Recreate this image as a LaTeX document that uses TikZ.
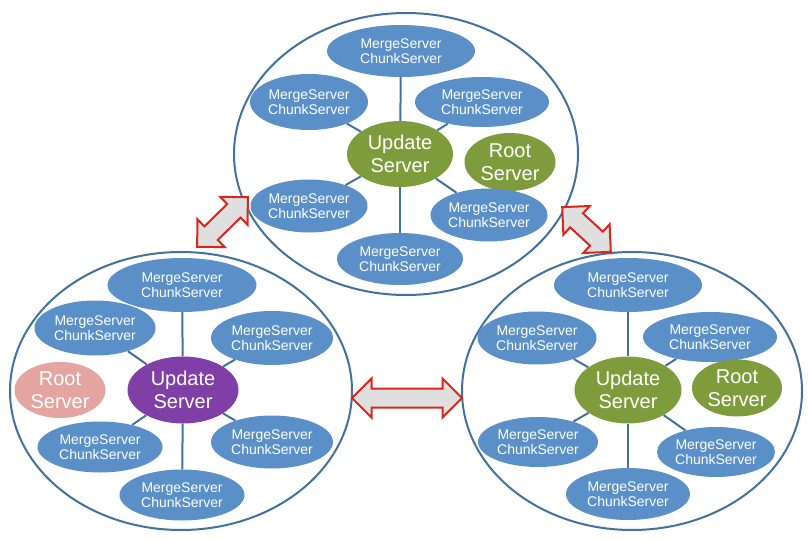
\documentclass[tikz,border=0pt]{standalone}
\usepackage{fontspec}
\setmainfont{Liberation Sans}
\usepackage{xcolor}
\usepackage{tikz}
\usetikzlibrary{shapes.geometric, shapes.arrows}
\definecolor{msblue}{HTML}{5B8FC7}
\definecolor{ringblue}{HTML}{41719C}
\definecolor{updgreen}{HTML}{7E9C3C}
\definecolor{updpurple}{HTML}{7F3FA6}
\definecolor{rootpink}{HTML}{E4A5A2}
\definecolor{arrowred}{HTML}{D9261C}

\begin{document}
\begin{tikzpicture}[x=1pt, y=-1pt,
  cluster/.style={ellipse, draw=ringblue, line width=2pt, inner sep=0pt},
  ms/.style n args={2}{ellipse, fill=msblue, text=white, inner sep=0pt, align=center, minimum width=#1pt, minimum height=#2pt, font=\fontsize{14}{15}\selectfont},
  srv/.style={ellipse, text=white, inner sep=0pt, align=center, font=\fontsize{20}{23}\selectfont},
  spoke/.style={draw=ringblue, line width=2pt},
  link/.style={double arrow, draw=arrowred, fill=gray!25, line width=2pt, inner sep=8.5pt, double arrow head extend=10pt, minimum width=36pt}]
\useasboundingbox (0,0) rectangle (808,540);

% Rings
\node[cluster, minimum width=344pt, minimum height=282pt] (ringT) at (406,154) {};
\node[cluster, minimum width=342pt, minimum height=278pt] (ringL) at (181,391) {};
\node[cluster, minimum width=340pt, minimum height=278pt] (ringR) at (632,391) {};

% Top cluster
\node[ms={148}{52}] (t1) at (401,51) {MergeServer\\ChunkServer};
\node[ms={118}{56}] (t2) at (309,102) {MergeServer\\ChunkServer};
\node[ms={134}{50}] (t3) at (482,102) {MergeServer\\ChunkServer};
\node[srv, fill=updgreen, minimum width=106pt, minimum height=66pt] (tU) at (400,154) {Update\\Server};
\node[srv, fill=updgreen, minimum width=91pt, minimum height=58pt] (tR) at (510,162) {Root\\Server};
\node[ms={117}{53}] (t4) at (309,206) {MergeServer\\ChunkServer};
\node[ms={117}{53}] (t5) at (489,215) {MergeServer\\ChunkServer};
\node[ms={126}{52}] (t6) at (400,259) {MergeServer\\ChunkServer};

% Left cluster
\node[ms={149}{54}] (l1) at (182,285) {MergeServer\\ChunkServer};
\node[ms={121}{55}] (l2) at (95,328) {MergeServer\\ChunkServer};
\node[ms={122}{54}] (l3) at (272,338) {MergeServer\\ChunkServer};
\node[srv, fill=rootpink, minimum width=91pt, minimum height=56pt] (lR) at (60,390) {Root\\Server};
\node[srv, fill=updpurple, minimum width=111pt, minimum height=67pt] (lU) at (183,390) {Update\\Server};
\node[ms={125}{51}] (l4) at (100,447) {MergeServer\\ChunkServer};
\node[ms={122}{53}] (l5) at (272,442) {MergeServer\\ChunkServer};
\node[ms={125}{51}] (l6) at (182,495) {MergeServer\\ChunkServer};

% Right cluster
\node[ms={148}{54}] (r1) at (628,285) {MergeServer\\ChunkServer};
\node[ms={119}{53}] (r2) at (537,338) {MergeServer\\ChunkServer};
\node[ms={134}{50}] (r3) at (710,337) {MergeServer\\ChunkServer};
\node[srv, fill=updgreen, minimum width=107pt, minimum height=67pt] (rU) at (628,390) {Update\\Server};
\node[srv, fill=updgreen, minimum width=90pt, minimum height=57pt] (rR) at (737,388) {Root\\Server};
\node[ms={120}{50}] (r4) at (538,442) {MergeServer\\ChunkServer};
\node[ms={118}{50}] (r5) at (716,452) {MergeServer\\ChunkServer};
\node[ms={124}{52}] (r6) at (628,494) {MergeServer\\ChunkServer};

% Spokes
\foreach \c in {t,l,r}
  \foreach \i in {1,...,6}
    \draw[spoke] (\c U) -- (\c\i);

% Arrows
\node[link, minimum height=71pt, rotate=44.4] (aL) at (222.5,222) {};
\node[link, minimum height=66pt, rotate=-42.6] (aR) at (586.5,229.5) {};
\node[link, minimum height=110pt] (aM) at (407,398) {};

\end{tikzpicture}
\end{document}
